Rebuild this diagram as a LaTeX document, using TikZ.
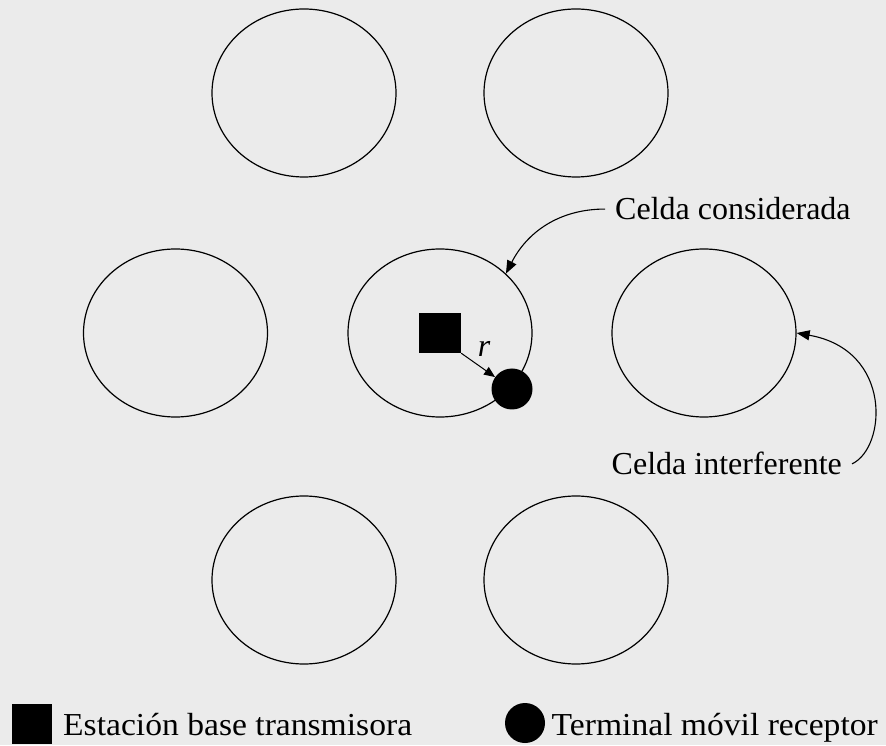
\documentclass[tikz,border=0pt]{standalone}
\usepackage{fontspec}
\setmainfont{Liberation Serif}
\usetikzlibrary{shapes.geometric,arrows.meta}
\definecolor{bgcol}{RGB}{235,235,235}
\begin{document}
\begin{tikzpicture}[x=1pt,y=1pt,
  cell/.style={draw, line width=1.2pt, ellipse, minimum width=184pt,
    minimum height=168pt, inner sep=0pt},
  txt/.style={font=\fontsize{32}{38}\selectfont, inner sep=0pt},
  conn/.style={line width=1.1pt, -{Triangle[length=13pt,width=10pt]}},
  radius arrow/.style={line width=1pt, -{Triangle[length=11pt,width=9pt]}},
  station/.style={fill=black, inner sep=0pt},
  mobile/.style={circle, fill=black, inner sep=0pt}]
\useasboundingbox (0,0) rectangle (886,745);
\fill[bgcol] (0,0) rectangle (886,745);

% cluster of cells
\node[cell] (tl) at (304,652) {};
\node[cell] (tr) at (576,652) {};
\node[cell] (ml) at (175.5,412) {};
\node[cell] (cc) at (440,412) {};
\node[cell] (ci) at (704,412) {};
\node[cell] (bl) at (304,165) {};
\node[cell] (br) at (576,165) {};

% base station and mobile terminal in the reference cell
\node[station, minimum width=42pt, minimum height=40pt] (bs) at (440,412) {};
\node[mobile, minimum size=41pt] (ms) at (512,356) {};
\draw[radius arrow] (bs.south east) -- node[txt, pos=0.5, xshift=6pt, yshift=16pt] (rl) {\textit{r}} (ms);

% annotations
\node[txt, anchor=base west, inner xsep=10pt] (lc) at (605,525) {Celda considerada};
\node[txt, anchor=base east, inner xsep=10pt] (li) at (852,270) {Celda interferente};
\draw[conn] (lc.west) to[out=180, in=63] (cc.42);
\draw[conn] (li.east) to[out=25, in=-10, out distance=38pt, in distance=98pt] (ci.east);

% legend
\node[station, minimum size=40pt, anchor=north west] (lgbs) at (12,41) {};
\node[txt, anchor=base west] (lgbst) at (63,10) {\scalebox{1.05}[1]{Estación base transmisora}};
\node[mobile, minimum size=40pt] (lgms) at (525,22) {};
\node[txt, anchor=base east] (lgmst) at (878,10) {\scalebox{1.05}[1]{Terminal móvil receptor}};
\end{tikzpicture}
\end{document}
